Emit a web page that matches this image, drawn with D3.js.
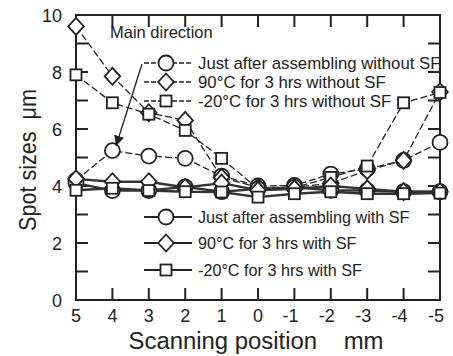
<!DOCTYPE html>
<html>
<head>
<meta charset="utf-8">
<script src="https://cdn.jsdelivr.net/npm/d3@7"></script>
<style>
  body { margin: 0; background: #fff; }
  svg { display: block; font-family: "Liberation Sans", Arial, sans-serif; }
</style>
</head>
<body>
<svg id="chart" width="453" height="356"></svg>
<script>
const positions = [5, 4, 3, 2, 1, 0, -1, -2, -3, -4, -5];
const xTicks = [5, 4, 3, 2, 1, 0, -1, -2, -3, -4, -5];
const yTicks = [0, 2, 4, 6, 8, 10];

// without SF (dashed)
const circleNoSF  = [4.2, 5.24, 5.05, 4.97, 4.35, 4.0, 4.02, 4.42, 4.6, 4.9, 5.53];
const diamondNoSF = [9.6, 7.85, 6.57, 6.3, 4.3, 3.95, 3.95, 4.1, 4.54, 4.9, 7.3];
const squareNoSF  = [7.9, 6.92, 6.52, 5.95, 4.97, 3.9, 3.95, 4.3, 4.7, 6.92, 7.28];
// with SF (solid)
const circleSF  = [4.1, 3.84, 3.84, 3.97, 3.8, 3.9, 3.95, 3.85, 3.84, 3.8, 3.8];
const diamondSF = [4.25, 4.15, 4.15, 3.95, 4.1, 3.85, 3.9, 4.0, 3.9, 3.8, 3.8];
const squareSF  = [3.85, 3.92, 3.84, 3.8, 3.79, 3.61, 3.73, 3.8, 3.73, 3.73, 3.75];

const legendTop = [
  "Just after assembling without SF",
  "90\u00b0C for 3 hrs without SF",
  "-20\u00b0C for 3 hrs without SF"
];
const legendBottom = [
  "Just after assembling with SF",
  "90\u00b0C for 3 hrs with SF",
  "-20\u00b0C for 3 hrs with SF"
];

const svg = d3.select('#chart');
const plotL = 76, plotR = 440, plotT = 15, plotB = 300;

const x = d3.scaleLinear().domain([5, -5]).range([plotL, plotR]);
const y = d3.scaleLinear().domain([0, 10]).range([plotB, plotT]);

// frame
svg.append('rect')
  .attr('x', plotL).attr('y', plotT)
  .attr('width', plotR - plotL).attr('height', plotB - plotT)
  .attr('fill', 'none').attr('stroke', '#222').attr('stroke-width', 2);

// ticks (inward, all four sides)
const tickLen = 12;
const g = svg.append('g').attr('stroke', '#222').attr('stroke-width', 2);
d3.range(-5, 6).forEach(v => {
  g.append('line').attr('x1', x(v)).attr('x2', x(v)).attr('y1', plotB).attr('y2', plotB - tickLen);
  g.append('line').attr('x1', x(v)).attr('x2', x(v)).attr('y1', plotT).attr('y2', plotT + tickLen);
});
d3.range(0, 11).forEach(v => {
  g.append('line').attr('x1', plotL).attr('x2', plotL + tickLen).attr('y1', y(v)).attr('y2', y(v));
  g.append('line').attr('x1', plotR).attr('x2', plotR - tickLen).attr('y1', y(v)).attr('y2', y(v));
});

// tick labels
svg.append('g').selectAll('text').data(xTicks).join('text')
  .attr('x', d => x(d) - (d < 0 ? 4 : 0)).attr('y', 322)
  .attr('text-anchor', 'middle').attr('font-size', 18).attr('fill', '#222')
  .text(d => d);
svg.append('g').selectAll('text').data(yTicks).join('text')
  .attr('x', 62).attr('y', d => y(d) + 6.5)
  .attr('text-anchor', 'end').attr('font-size', 18).attr('fill', '#222')
  .text(d => d);

// axis titles
svg.append('text').attr('x', 256).attr('y', 349)
  .attr('text-anchor', 'middle').attr('font-size', 23).attr('fill', '#222')
  .attr('xml:space', 'preserve')
  .attr('textLength', 255).attr('lengthAdjust', 'spacingAndGlyphs')
  .text('Scanning position    mm');
svg.append('text').attr('transform', 'translate(36,160) rotate(-90)')
  .attr('text-anchor', 'middle').attr('font-size', 24).attr('fill', '#222')
  .attr('xml:space', 'preserve')
  .attr('textLength', 142).attr('lengthAdjust', 'spacingAndGlyphs')
  .text('Spot sizes  \u03bcm');

// markers
function marker(sel, type, cx, cy) {
  if (type === 'circle') {
    sel.append('circle').attr('cx', cx).attr('cy', cy).attr('r', 7.5);
  } else if (type === 'diamond') {
    sel.append('path').attr('d', `M${cx},${cy - 8.5}L${cx + 7.8},${cy}L${cx},${cy + 8.5}L${cx - 7.8},${cy}Z`);
  } else {
    const s = 5.5;
    sel.append('rect').attr('x', cx - s).attr('y', cy - s).attr('width', 2 * s).attr('height', 2 * s);
  }
}

const seriesList = [
  { vals: circleNoSF, type: 'circle', dash: true },
  { vals: diamondNoSF, type: 'diamond', dash: true },
  { vals: squareNoSF, type: 'square', dash: true },
  { vals: circleSF, type: 'circle', dash: false },
  { vals: diamondSF, type: 'diamond', dash: false },
  { vals: squareSF, type: 'square', dash: false }
];

const line = d3.line().x((d, i) => x(positions[i])).y(d => y(d));

seriesList.forEach(s => {
  svg.append('path').datum(s.vals)
    .attr('d', line).attr('fill', 'none')
    .attr('stroke', s.dash ? '#222' : '#333')
    .attr('stroke-width', s.dash ? 1.3 : 2.4)
    .attr('stroke-dasharray', s.dash ? '7,3' : null);
});
seriesList.forEach(s => {
  const mg = svg.append('g').attr('fill', '#fff').attr('stroke', '#222').attr('stroke-width', 1.8);
  s.vals.forEach((v, i) => marker(mg, s.type, x(positions[i]), y(v)));
});

// legends
svg.append('text').attr('x', 110).attr('y', 38).attr('font-size', 16.5).attr('fill', '#222')
  .text('Main direction');

const types = ['circle', 'diamond', 'square'];
function legend(items, ys, dash, fs) {
  items.forEach((t, i) => {
    const ly = ys[i];
    svg.append('line').attr('x1', 144).attr('x2', 192).attr('y1', ly).attr('y2', ly)
      .attr('stroke', '#222').attr('stroke-width', dash ? 1.3 : 2)
      .attr('stroke-dasharray', dash ? '5,2' : null);
    const mg = svg.append('g').attr('fill', '#fff').attr('stroke', '#222').attr('stroke-width', 1.8);
    marker(mg, types[i], 166, ly);
    svg.append('text').attr('x', 198).attr('y', ly + 5.5).attr('font-size', fs).attr('fill', '#222')
      .text(t);
  });
}
legend(legendTop, [63, 82, 101], true, 16.8);
legend(legendBottom, [217, 243, 270], false, 16.2);

// arrow
svg.append('defs').append('marker')
  .attr('id', 'arr').attr('viewBox', '0 0 10 10').attr('refX', 10).attr('refY', 5)
  .attr('markerWidth', 8).attr('markerHeight', 8).attr('orient', 'auto')
  .append('path').attr('d', 'M0,0L10,5L0,10Z').attr('fill', '#222');
svg.append('line').attr('x1', 142).attr('y1', 64).attr('x2', 116).attr('y2', 146)
  .attr('stroke', '#222').attr('stroke-width', 1.3).attr('marker-end', 'url(#arr)');
</script>
</body>
</html>
